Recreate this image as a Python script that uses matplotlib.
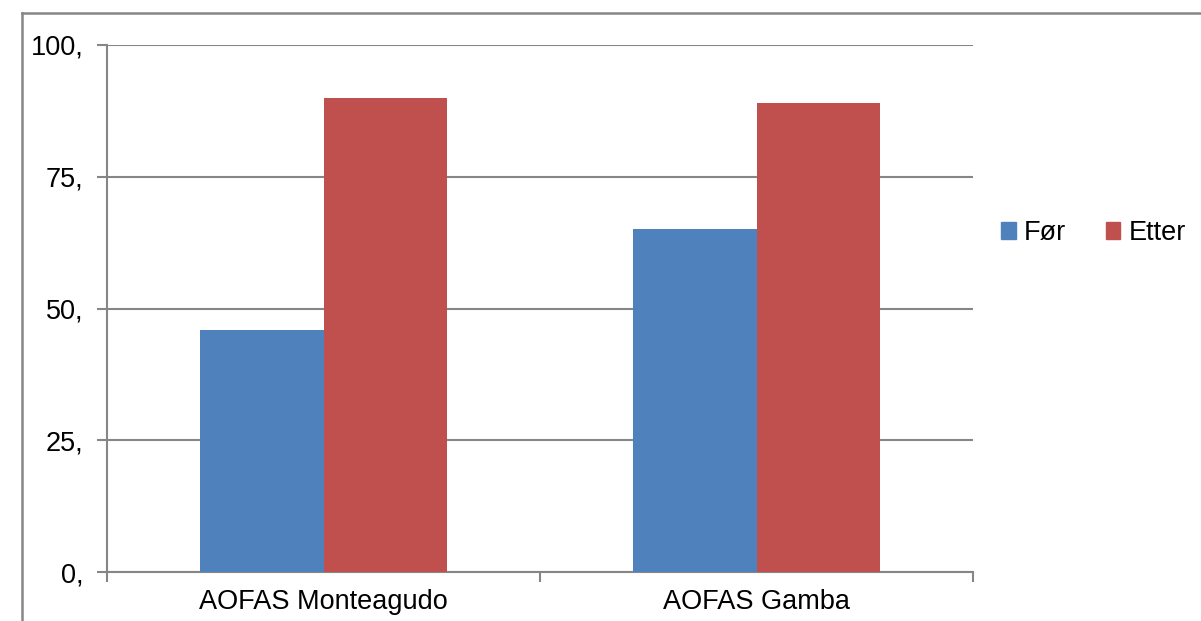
import matplotlib
matplotlib.use("Agg")
import matplotlib.pyplot as plt
from matplotlib.lines import Line2D
from matplotlib.patches import Patch

# AOFAS scores before / after
categories = ["AOFAS Monteagudo", "AOFAS Gamba"]
series_names = ["Før", "Etter"]
for_values = [46, 65]
etter_values = [90, 89]
y_ticks = [0, 25, 50, 75, 100]
y_tick_labels = ["0,", "25,", "50,", "75,", "100,"]

BLUE = "#4F81BD"
RED = "#C0504D"
GRAY = "#868686"

plt.rcParams["font.family"] = ["Liberation Sans", "DejaVu Sans"]

fig = plt.figure(figsize=(12.01, 6.21), dpi=100)
ax = fig.add_axes([107 / 1201, 1 - 572 / 621, (973 - 107) / 1201, (572 - 45) / 621])

x = list(range(len(categories)))
width = 0.286
ax.bar([i - width / 2 for i in x], for_values, width, color=BLUE, label=series_names[0], zorder=3)
ax.bar([i + width / 2 for i in x], etter_values, width, color=RED, label=series_names[1], zorder=3)

ax.set_xlim(-0.5, len(categories) - 0.5)
ax.set_ylim(0, 100)
ax.set_yticks(y_ticks)
ax.set_yticklabels(y_tick_labels)
ax.set_xticks(x)
ax.set_xticklabels(categories)
ax.set_xticks([-0.5, 0.5, 1.5], minor=True)
ax.tick_params(axis="x", which="major", length=0, pad=12, labelsize=19.5)
ax.tick_params(axis="x", which="minor", length=7, width=1.5, color=GRAY, direction="out")
ax.tick_params(axis="y", length=7, width=1.5, color=GRAY, direction="out", pad=10, labelsize=19.5)

ax.yaxis.grid(True, color=GRAY, linewidth=1.5, zorder=0)
ax.set_axisbelow(True)
for side in ["top", "right"]:
    ax.spines[side].set_visible(False)
for side in ["left", "bottom"]:
    ax.spines[side].set_color(GRAY)
    ax.spines[side].set_linewidth(1.5)

handles = [Patch(color=BLUE), Patch(color=RED)]
fig.legend(handles, series_names, loc="center left", bbox_to_anchor=(1001 / 1201, 1 - 233 / 621),
           ncol=2, frameon=False, fontsize=19.5, handlelength=0.55, handleheight=0.55,
           handletextpad=0.3, columnspacing=1.45, borderpad=0, borderaxespad=0)

# outer chart frame
fx = 22 / 1201
fy = 1 - 13 / 621
fig.add_artist(Line2D([fx, fx], [0, fy], transform=fig.transFigure, color=GRAY, linewidth=1.8))
fig.add_artist(Line2D([fx, 1], [fy, fy], transform=fig.transFigure, color=GRAY, linewidth=1.8))

fig.savefig("out.png", dpi=100)
